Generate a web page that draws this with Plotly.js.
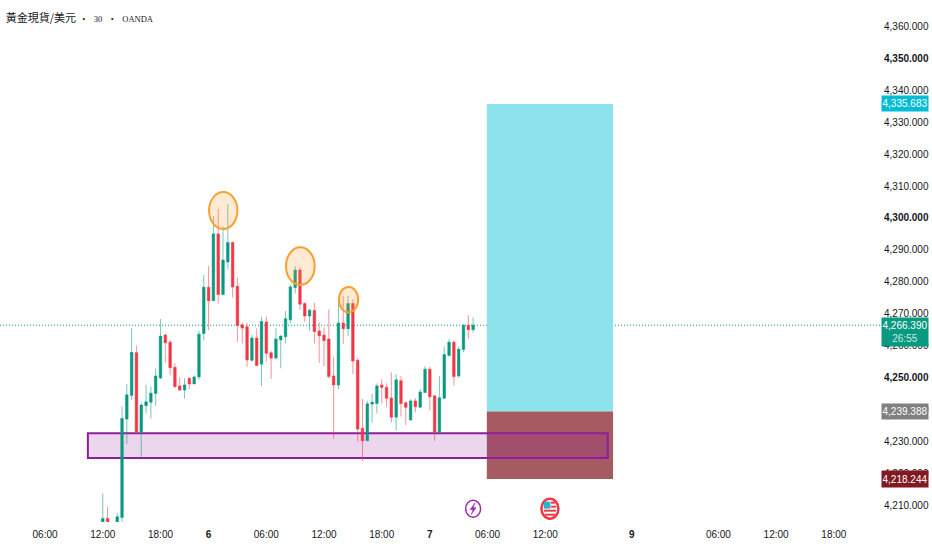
<!DOCTYPE html>
<html><head><meta charset="utf-8">
<script src="https://cdn.plot.ly/plotly-3.0.1.min.js"></script>
<style>html,body{margin:0;padding:0;background:#fff}#c{width:932px;height:550px}</style></head>
<body><div id="c"></div>
<script>
const open_ = [4204.3,4205.9,null,4204.3,4206.2,4237.0,4244.4,4257.8,4232.8,4241.2,4242.3,4245.0,4249.9,4263.3,4261.1,4253.2,4247.4,4246.1,4249.8,4248.0,4250.2,4263.8,4278.3,4274.1,4295.0,4276.0,4286.2,4292.3,4278.6,4266.5,4265.9,4255.4,4262.4,4254.2,4267.4,4257.8,4256.1,4261.8,4262.8,4268.1,4278.2,4283.7,4273.2,4269.3,4271.0,4264.6,4263.3,4262.1,4250.5,4247.7,4267.1,4265.3,4273.2,4255.4,4234.1,4230.2,4241.7,4241.9,4247.7,4247.0,4243.6,4237.6,4249.0,4242.1,4236.7,4242.7,4240.7,4245.3,4252.6,4244.3,4232.9,4243.5,4256.9,4261.1,4250.5,4258.8,4266.4,4265.0];
const close_ = [4205.9,4204.3,null,4206.4,4237.2,4244.6,4257.9,4232.8,4241.4,4242.4,4245.1,4250.5,4263.0,4260.9,4253.1,4247.2,4246.1,4247.7,4248.0,4250.2,4263.6,4278.3,4274.1,4295.0,4276.0,4286.8,4292.3,4278.4,4266.3,4265.5,4255.5,4262.4,4253.8,4267.6,4257.6,4256.1,4262.1,4263.0,4268.4,4278.4,4283.7,4273.0,4269.3,4271.1,4264.4,4263.1,4261.6,4250.3,4247.7,4267.1,4265.3,4273.2,4255.2,4233.9,4230.2,4241.8,4242.3,4247.4,4246.9,4243.5,4237.6,4249.3,4241.9,4240.7,4242.7,4240.9,4245.5,4252.6,4244.0,4232.9,4243.7,4257.2,4261.1,4250.3,4258.9,4266.4,4265.0,4266.39];
const high_ = [4213.7,4209.6,null,4207.5,4240.9,4248.0,4265.5,4260.0,4242.2,4247.7,4247.2,4252.9,4268.3,4263.9,4261.8,4254.4,4250.1,4249.8,4250.0,4250.7,4264.6,4282.1,4284.9,4300.6,4302.8,4297.4,4304.3,4292.6,4281.2,4267.2,4267.2,4263.3,4265.4,4269.1,4269.1,4258.4,4265.5,4263.2,4270.8,4279.0,4284.9,4284.5,4273.7,4271.6,4273.4,4267.3,4265.7,4271.3,4256.3,4274.8,4275.6,4275.6,4274.5,4256.0,4243.3,4242.7,4244.9,4248.2,4249.5,4248.2,4251.6,4251.1,4250.5,4242.5,4243.2,4243.5,4246.5,4253.6,4253.4,4244.4,4250.5,4259.7,4262.1,4261.6,4259.7,4266.7,4269.6,4268.9];
const low_ = [4203.0,4203.0,null,4203.0,4204.5,4229.2,4243.0,4232.5,4225.2,4238.8,4237.2,4241.2,4249.5,4254.7,4250.8,4246.7,4245.9,4243.4,4246.4,4248.0,4249.3,4261.6,4264.9,4274.0,4273.2,4275.8,4283.9,4275.1,4261.2,4260.7,4253.4,4255.0,4253.6,4247.4,4255.0,4249.6,4255.7,4252.9,4260.7,4267.0,4276.3,4271.3,4267.5,4264.7,4260.7,4254.6,4253.6,4249.8,4230.7,4246.3,4260.5,4263.0,4251.1,4229.9,4223.9,4230.2,4235.9,4238.8,4241.9,4240.9,4235.9,4233.6,4237.8,4235.1,4236.5,4239.1,4240.6,4245.1,4239.7,4230.2,4232.2,4243.3,4256.7,4247.5,4250.0,4257.9,4262.1,4264.1];
const barIndex = open_.map((_, i) => i);

const xTickVals = [-12,0,12,22,34,46,58,68,80,92,110,128,140,152];
const xTickText = ['06:00','12:00','18:00','<b>6</b>','06:00','12:00','18:00','<b>7</b>','06:00','12:00','<b>9</b>','06:00','12:00','18:00'];
const yTickVals = [4360,4350,4340,4330,4320,4310,4300,4290,4280,4270,4260,4250,4240,4230,4220,4210];
const yTickText = ['4,360.000','<b>4,350.000</b>','4,340.000','4,330.000','4,320.000','4,310.000','<b>4,300.000</b>','4,290.000','4,280.000','4,270.000','4,260.000','<b>4,250.000</b>','4,240.000','4,230.000','4,220.000','4,210.000'];

const targetPrice = 4335.683, entryPrice = 4239.388, stopPrice = 4218.244, lastPrice = 4266.39;
const positionSpan = [79.85, 106.1];
const zoneSpan = [-3.1, 105], zonePrices = [4224.8, 4232.6];
const circleX = [[22.1,28.0],[38.1,44.05],[49.1,53.1]];
const circleY = [[4296.5,4308.1],[4279.0,4290.8],[4270.4,4278.4]];
const eventBars = [77.0, 92.97];
const eventPrice = 4208.94;

const shapes = [
  {type:'rect',layer:'below',x0:positionSpan[0],x1:positionSpan[1],y0:entryPrice,y1:targetPrice,fillcolor:'#8CE3EB',line:{width:0}},
  {type:'rect',layer:'below',x0:positionSpan[0],x1:positionSpan[1],y0:stopPrice,y1:entryPrice,fillcolor:'#A65B63',line:{width:0}},
  {type:'rect',layer:'below',x0:zoneSpan[0],x1:zoneSpan[1],y0:zonePrices[0],y1:zonePrices[1],fillcolor:'rgba(142,30,160,0.18)',line:{color:'#8E1EA0',width:2}},
  {type:'line',layer:'below',xref:'paper',x0:0,x1:1,y0:lastPrice,y1:lastPrice,line:{color:'#089981',width:1,dash:'1px,2px'}}
];
circleX.forEach((cx,i)=>shapes.push({type:'circle',layer:'above',x0:cx[0],x1:cx[1],y0:circleY[i][0],y1:circleY[i][1],fillcolor:'rgba(255,160,60,0.22)',line:{color:'#F7A030',width:2}}));
// event markers
const px = (xa, ya, s) => Object.assign({xsizemode:'pixel',ysizemode:'pixel',xanchor:xa,yanchor:ya,layer:'above'}, s);
const ex0 = eventBars[0], ex1 = eventBars[1], red = '#F23645';
shapes.push(px(ex0,eventPrice,{type:'circle',x0:-7.5,x1:7.5,y0:-8.5,y1:8.5,fillcolor:'#fff',line:{color:'#9C27B0',width:1.5}}));
shapes.push(px(ex0,eventPrice,{type:'path',path:'M 2 6 L -3 -1 L 0 -1 L -2 -6 L 3 1 L 0 1 Z',fillcolor:'#9C27B0',line:{color:'#9C27B0',width:0.5}}));
shapes.push(px(ex1,eventPrice,{type:'circle',x0:-8.5,x1:8.5,y0:-10,y1:10,fillcolor:'#fff',line:{color:red,width:2.5}}));
[[-5,5,-7,-5],[-6,6,-3,-1],[1,6,1,3],[1,5,5,7]].forEach(r=>shapes.push(px(ex1,eventPrice,{type:'rect',x0:r[0],x1:r[1],y0:r[2],y1:r[3],fillcolor:red,line:{width:0}})));
shapes.push(px(ex1,eventPrice,{type:'rect',x0:-6,x1:0.5,y0:0,y1:7,fillcolor:'#22B8C8',line:{width:0}}));

const labelFont = c => ({family:'"Liberation Sans",sans-serif',size:10,color:c});
const priceTag = (y,text,bg,h) => ({xref:'paper',x:1,xshift:1,xanchor:'left',yref:'y',y:y,yanchor:'middle',text:text,showarrow:false,bgcolor:bg,font:labelFont('#fff'),width:46,height:h,align:'center',borderpad:0});
const annotations = [
  priceTag(targetPrice,'4,335.683','#00BCD4',15),
  Object.assign(priceTag(lastPrice,'4,266.390<br><span style="color:#c9ece5">26:55</span>','#089981',28),{yshift:-7}),
  priceTag(entryPrice,'4,239.388','#808080',15),
  priceTag(stopPrice,'4,218.244','#801922',16)
];

const trace = {type:'candlestick',x:barIndex,open:open_,high:high_,low:low_,close:close_,
  increasing:{line:{color:'rgba(8,153,129,0.55)',width:1},fillcolor:'#089981'},
  decreasing:{line:{color:'rgba(242,54,69,0.55)',width:1},fillcolor:'#F23645'},
  hoverinfo:'skip',showlegend:false};

const n = '\u00A0';
const layout = {
  width:932,height:550,paper_bgcolor:'#fff',plot_bgcolor:'#fff',showlegend:false,dragmode:false,hovermode:false,
  margin:{l:0,r:52,t:0,b:28},boxgap:0.25,
  title:{text:'黃金現貨/美元<span style="font-family:\'Liberation Serif\',serif;font-size:8.5px">'+n+n+n+'•'+n+n+n+n+'30'+n+n+n+n+'•'+n+n+n+n+'OANDA</span>',x:6/932,xref:'paper',xanchor:'left',y:1-18/550,yanchor:'middle',font:{family:'"Noto Sans CJK TC",sans-serif',size:11,color:'#131722'}},
  xaxis:{range:[-21.37,161.6],showgrid:false,zeroline:false,showline:false,ticks:'',rangeslider:{visible:false},tickmode:'array',tickvals:xTickVals,ticktext:xTickText,tickangle:0,ticklabelstandoff:5,tickfont:labelFont('#131722')},
  yaxis:{range:[4204.77,4368.25],side:'right',showgrid:false,zeroline:false,showline:false,ticks:'',tickmode:'array',tickvals:yTickVals,ticktext:yTickText,ticklabelstandoff:3,tickfont:labelFont('#131722')},
  shapes,annotations
};
Plotly.newPlot('c',[trace],layout,{displayModeBar:false,staticPlot:true});
</script></body></html>
